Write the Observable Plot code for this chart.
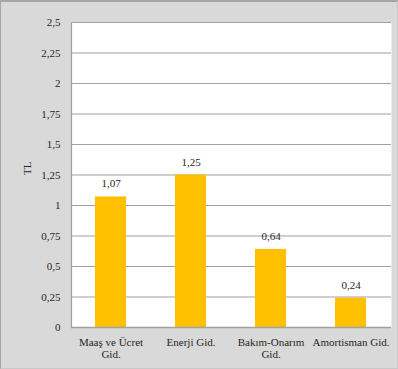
<!DOCTYPE html>
<html>
<head>
<meta charset="utf-8">
<script src="https://cdn.jsdelivr.net/npm/d3@7"></script>
<script src="https://cdn.jsdelivr.net/npm/@observablehq/plot@0.6"></script>
<style>
  html, body { margin: 0; padding: 0; background: #fff; }
  #chart {
    width: 396px; height: 366px;
    background: #d9d9d9;
    border-top: 2px solid #a6a6a6;
    border-left: 1px solid #a6a6a6;
    border-right: 1px solid #c8c8c8;
    border-bottom: 1px solid #c8c8c8;
    overflow: hidden;
  }
  #chart svg { display: block; }
  #chart svg, #chart svg text { font-family: "Liberation Serif", "DejaVu Serif", serif !important; }
</style>
</head>
<body>
<div id="chart"></div>
<script>
// Expense categories (x-axis labels, with line breaks) and their values in TL
const categories = ["Maaş ve Ücret\nGid.", "Enerji Gid.", "Bakım-Onarım\nGid.", "Amortisman Gid."];
const values = [1.07, 1.25, 0.64, 0.24];
const yTicks = [0, 0.25, 0.5, 0.75, 1, 1.25, 1.5, 1.75, 2, 2.25, 2.5];
const yLabel = "TL";

const rows = categories.map((c, i) => ({category: c, value: values[i]}));
const comma = (v) => String(v).replace(".", ",");

const chart = Plot.plot({
  width: 396,
  height: 366,
  marginLeft: 70,
  marginRight: 6,
  marginTop: 20,
  marginBottom: 41,
  style: {background: "transparent", fontSize: "11px", color: "#262626"},
  x: {domain: categories, paddingInner: 0.61, paddingOuter: 0.305},
  y: {domain: [0, 2.5]},
  marks: [
    Plot.frame({fill: "white", stroke: null}),
    Plot.gridY(yTicks, {stroke: "#a0a0a0", strokeOpacity: 1, strokeWidth: 1.2}),
    Plot.frame({anchor: "left", stroke: "#a0a0a0", strokeWidth: 1.2}),
    Plot.barY(rows, {x: "category", y: "value", fill: "#ffc000"}),
    Plot.ruleY([0], {stroke: "#a0a0a0", strokeWidth: 1.5}),
    Plot.text(rows, {x: "category", y: "value", text: (d) => comma(d.value), dy: -13, fill: "#262626", fontSize: 11}),
    Plot.axisY(yTicks, {tickSize: 0, tickPadding: 11, tickFormat: comma, label: null, fill: "#262626", fontSize: 11}),
    Plot.axisX({tickSize: 0, tickPadding: 10, lineHeight: 1.1, label: null, fill: "#262626", textAnchor: "middle", fontSize: 11}),
    Plot.text([yLabel], {frameAnchor: "left", dx: -44, rotate: -90, fill: "#262626", fontSize: 11})
  ]
});

document.getElementById("chart").appendChild(chart);
</script>
</body>
</html>
